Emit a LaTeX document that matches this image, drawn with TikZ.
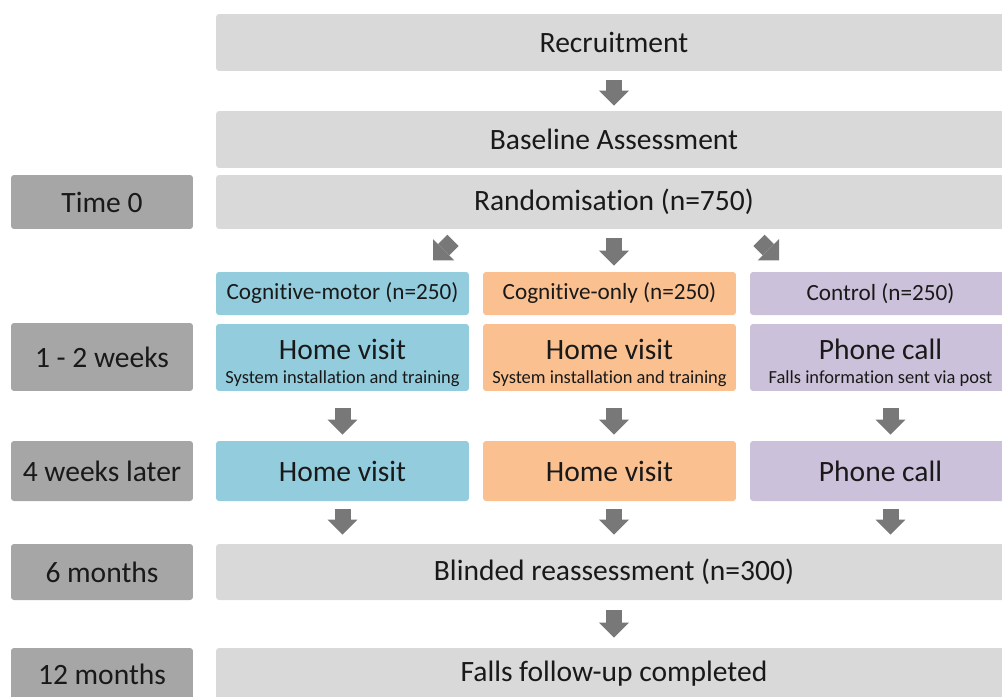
\documentclass[tikz,border=0pt]{standalone}
\usepackage{fontspec}
\setmainfont{Carlito}[Ligatures={NoCommon}]
\usetikzlibrary{arrows.meta}

\definecolor{lightbox}{HTML}{D9D9D9}
\definecolor{darkbox}{HTML}{A6A6A6}
\definecolor{cmblue}{HTML}{93CDDD}
\definecolor{coorange}{HTML}{FAC090}
\definecolor{ctpurple}{HTML}{CCC1DA}
\definecolor{arrowgray}{HTML}{787878}

\begin{document}
\begin{tikzpicture}[
    x=0.02cm, y=-0.02cm,
    box/.style={rectangle, rounded corners=0.06cm, inner sep=0pt, align=center,
                text=black!90, font=\fontsize{16.8}{20}\selectfont},
    timebox/.style={box, fill=darkbox, minimum width=3.64cm},
    mainbox/.style={box, fill=lightbox, minimum width=15.92cm},
    groupbox/.style={box, minimum height=0.86cm, font=\fontsize{13.2}{15}\selectfont},
    blockarrow/.style={draw=arrowgray, line width=0.32cm,
                -{Triangle[length=0.3cm, width=0.6cm, line width=0pt]}}
]

  % Define variables for the column layout
  \def\armW{5.06cm}     % width of the two cognitive columns
  \def\ctW{5.22cm}      % width of the control column (runs off the page)
  \newcommand{\visittext}[2]{\rule{0pt}{17.5pt}#1\\[-6.4pt]{\fontsize{10.5}{12}\selectfont #2}}

  % Page size and clipping
  \useasboundingbox (0,0) rectangle (1002,697);
  \clip (0,0) rectangle (1002,697);

  % Top of the trial
  \node[mainbox, minimum height=1.14cm] (rec)  at (614,42.5)  {Recruitment};
  \node[mainbox, minimum height=1.14cm] (base) at (614,139.5) {Baseline Assessment};
  \node[timebox, minimum height=1.08cm] (t0)   at (102,202)   {Time 0};
  \node[mainbox, minimum height=1.08cm] (rand) at (614,202)   {Randomisation (n=750)};

  % The three arms
  \node[groupbox, fill=cmblue,   minimum width=\armW] (cmg) at (342.5,293.5) {Cognitive-motor (n=250)};
  \node[groupbox, fill=coorange, minimum width=\armW] (cog) at (609.5,293.5) {Cognitive-only (n=250)};
  \node[groupbox, fill=ctpurple, minimum width=\ctW]  (ctg) at (880.5,293.5) {Control (n=250)};

  % First contact (1 - 2 weeks)
  \node[timebox, minimum height=1.36cm] (t1) at (102,357) {1 - 2 weeks};
  \node[box, fill=cmblue, minimum width=\armW, minimum height=1.34cm] (cmv) at (342.5,357.5)
    {\visittext{Home visit}{System installation and training}};
  \node[box, fill=coorange, minimum width=\armW, minimum height=1.34cm] (cov) at (609.5,357.5)
    {\visittext{Home visit}{System installation and training}};
  \node[box, fill=ctpurple, minimum width=\ctW, minimum height=1.34cm] (ctv) at (880.5,357.5)
    {\visittext{Phone call}{Falls information sent via post}};

  % Second contact (4 weeks later)
  \node[timebox, minimum height=1.2cm] (t4) at (102,471) {4 weeks later};
  \node[box, fill=cmblue,   minimum width=\armW, minimum height=1.2cm] (cm4) at (342.5,471) {Home visit};
  \node[box, fill=coorange, minimum width=\armW, minimum height=1.2cm] (co4) at (609.5,471) {Home visit};
  \node[box, fill=ctpurple, minimum width=\ctW,  minimum height=1.2cm] (ct4) at (880.5,471) {Phone call};

  % Follow-up
  \node[timebox, minimum height=1.12cm] (t6)  at (102,572) {6 months};
  \node[mainbox, minimum height=1.12cm] (blind) at (614,572) {Blinded reassessment (n=300)};
  \node[timebox, minimum height=1.04cm] (t12) at (102,674) {12 months};
  \node[mainbox, minimum height=1.04cm] (follow) at (614,674) {Falls follow-up completed};

  % Arrows down the main column
  \draw[blockarrow, shorten <=0.18cm, shorten >=0.1cm] (rec) -- (base);
  \draw[blockarrow, shorten <=0.18cm, shorten >=0.12cm] (rand) -- (rand |- cog.north);
  \draw[blockarrow] (rand.south) ++(-161,11) -- ++(-20,20);
  \draw[blockarrow] (rand.south) ++(145,11) -- ++(20,20);

  % Arrows inside each arm
  \draw[blockarrow, shorten <=0.34cm, shorten >=0.12cm] (cmv) -- (cm4);
  \draw[blockarrow, shorten <=0.34cm, shorten >=0.12cm] ([xshift=0.09cm]cov.south) -- ([xshift=0.09cm]co4.north);
  \draw[blockarrow, shorten <=0.34cm, shorten >=0.12cm] ([xshift=0.2cm]ctv.south) -- ([xshift=0.2cm]ct4.north);

  % Arrows into the reassessment
  \draw[blockarrow, shorten <=0.16cm, shorten >=0.18cm] (cm4.south) -- (cm4.south |- blind.north);
  \draw[blockarrow, shorten <=0.16cm, shorten >=0.18cm] ([xshift=0.09cm]co4.south) -- ([xshift=0.09cm]co4.south |- blind.north);
  \draw[blockarrow, shorten <=0.16cm, shorten >=0.18cm] ([xshift=0.2cm]ct4.south) -- ([xshift=0.2cm]ct4.south |- blind.north);
  \draw[blockarrow, shorten <=0.2cm, shorten >=0.2cm] (blind) -- (follow);

\end{tikzpicture}
\end{document}
